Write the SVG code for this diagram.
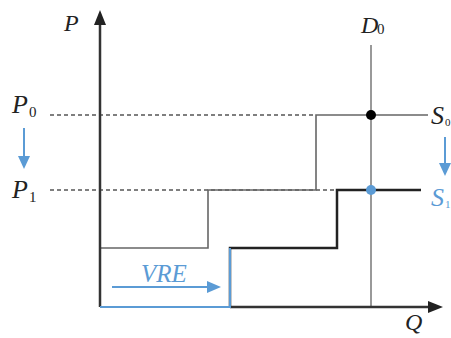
<svg xmlns="http://www.w3.org/2000/svg" width="451" height="338" viewBox="0 0 451 338">
<style>
.lbl{font-family:"Liberation Serif",serif;font-style:italic;font-size:24px;fill:#222}
.sub{font-family:"Liberation Serif",serif;font-size:15px;fill:#222}
.blue{fill:#5b9bd5}
.axis{stroke:#333;stroke-width:2.5;fill:none}
.dash{stroke:#555;stroke-width:1.3;stroke-dasharray:4,3;fill:none}
.s0{stroke:#666;stroke-width:1.6;fill:none}
.s1{stroke:#222;stroke-width:2.5;fill:none}
.d0{stroke:#777;stroke-width:1.5;fill:none}
.bl{stroke:#5b9bd5;stroke-width:2;fill:none}
</style>
<rect width="451" height="338" fill="#fff"/>
<g id="connectors">
<line class="dash" x1="50" y1="115" x2="316" y2="115"/>
<line class="dash" x1="50" y1="190" x2="337" y2="190"/>
<polyline id="S0-curve" class="s0" points="100,248 208,248 208,190 316,190 316,115 428,115"/>
<line id="D0-line" class="d0" x1="371" y1="45" x2="371" y2="307"/>
<polyline id="S1-curve" class="s1" points="230,307 230,248 337,248 337,190 421,190"/>
<line class="axis" x1="230" y1="307" x2="430" y2="307"/>
<line class="axis" x1="100" y1="307" x2="100" y2="22"/>
<polygon points="100,10 94,25 106,25" fill="#222"/>
<polygon points="443,307 428,301 428,313" fill="#222"/>
<polyline class="bl" points="100,307 230,307 230,248"/>
<line class="bl" x1="112" y1="287" x2="210" y2="287"/>
<polygon class="blue" points="221,287 207,281 207,293"/>
<line class="bl" x1="24" y1="128" x2="24" y2="158"/>
<polygon class="blue" points="24,169 18,156 30,156"/>
<line class="bl" x1="445" y1="137" x2="445" y2="165"/>
<polygon class="blue" points="445,176 439,163 451,163"/>
</g>
<g id="dot-eq0"><circle cx="371" cy="115" r="5" fill="#000"/></g>
<g id="dot-eq1"><circle cx="371" cy="190" r="5" fill="#5b9bd5"/></g>
<g id="label-P"><text class="lbl" x="64" y="31">P</text></g>
<g id="label-Q"><text class="lbl" x="405" y="330">Q</text></g>
<g id="label-D0"><text class="lbl" x="361" y="33">D</text><text class="sub" x="377" y="34">0</text></g>
<g id="label-P0"><text class="lbl" style="font-size:26px" x="12" y="113">P</text><text class="sub" x="29" y="117">0</text></g>
<g id="label-P1"><text class="lbl" style="font-size:26px" x="12" y="198">P</text><text class="sub" x="29" y="202">1</text></g>
<g id="label-S0"><text class="lbl" style="font-size:26px" x="431" y="124">S</text><text class="sub" style="font-size:11px" x="445" y="126">0</text></g>
<g id="label-S1"><text class="lbl blue" style="font-size:26px" x="431" y="206">S</text><text class="sub blue" style="font-size:11px" x="445" y="208">1</text></g>
<g id="label-VRE"><text class="lbl blue" style="font-size:25px" x="141" y="282">VRE</text></g>
</svg>
